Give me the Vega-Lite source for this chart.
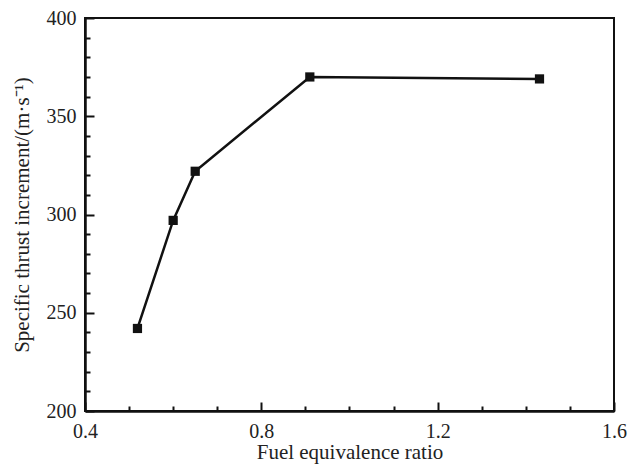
{
  "$schema": "https://vega.github.io/schema/vega-lite/v6.json",
  "width": 529,
  "height": 393,
  "autosize": "none",
  "padding": {"left": 85, "top": 18, "right": 15, "bottom": 58},
  "background": "white",
  "config": {
    "view": {"stroke": "#111", "strokeWidth": 2},
    "font": "Liberation Serif",
    "axis": {
      "labelFont": "Liberation Serif",
      "titleFont": "Liberation Serif",
      "labelFontSize": 20,
      "titleFontSize": 21,
      "titleFontWeight": "normal",
      "labelColor": "#222",
      "titleColor": "#222",
      "domainColor": "#111",
      "domainWidth": 2.5,
      "tickColor": "#111",
      "tickWidth": 2,
      "ticks": true,
      "grid": false,
      "labelOverlap": false
    }
  },
  "data": {
    "values": [
      {"phi": 0.519, "thrust": 242},
      {"phi": 0.600, "thrust": 297},
      {"phi": 0.650, "thrust": 322},
      {"phi": 0.910, "thrust": 370},
      {"phi": 1.431, "thrust": 369}
    ]
  },
  "mark": {"type": "line", "color": "#111", "strokeWidth": 2.5,
           "point": {"shape": "square", "size": 85, "filled": true, "color": "#111", "opacity": 1}},
  "encoding": {
    "x": {
      "field": "phi", "type": "quantitative",
      "scale": {"domain": [0.4, 1.6], "nice": false, "zero": false},
      "axis": {
        "orient": "bottom",
        "title": "Fuel equivalence ratio",
        "titlePadding": 0,
        "values": [0.4, 0.5, 0.6, 0.7, 0.8, 0.9, 1.0, 1.1, 1.2, 1.3, 1.4, 1.5, 1.6],
        "labelExpr": "(round(datum.value*10) % 4) == 0 ? format(datum.value, '.1f') : ''",
        "tickSize": -9,
        "tickColor": "#111",
        "tickOpacity": 1,
        "tickWidth": 2,
        "tickDash": {"condition": {"test": "(round(datum.value*10) % 4) == 0", "value": [9, 0]}, "value": [5, 20]},
        "labelPadding": 19,
        "labelFlush": false
      }
    },
    "y": {
      "field": "thrust", "type": "quantitative",
      "scale": {"domain": [200, 400], "nice": false, "zero": false},
      "axis": {
        "title": "Specific thrust increment/(m·s⁻¹)",
        "titlePadding": 14,
        "values": [200, 210, 220, 230, 240, 250, 260, 270, 280, 290, 300, 310, 320, 330, 340, 350, 360, 370, 380, 390, 400],
        "labelExpr": "datum.value % 50 == 0 ? datum.label : ''",
        "tickSize": -9,
        "tickDash": {"condition": {"test": "datum.value % 50 == 0", "value": [9, 0]}, "value": [5, 20]},
        "labelPadding": 18,
        "labelFlush": false
      }
    }
  }
}
